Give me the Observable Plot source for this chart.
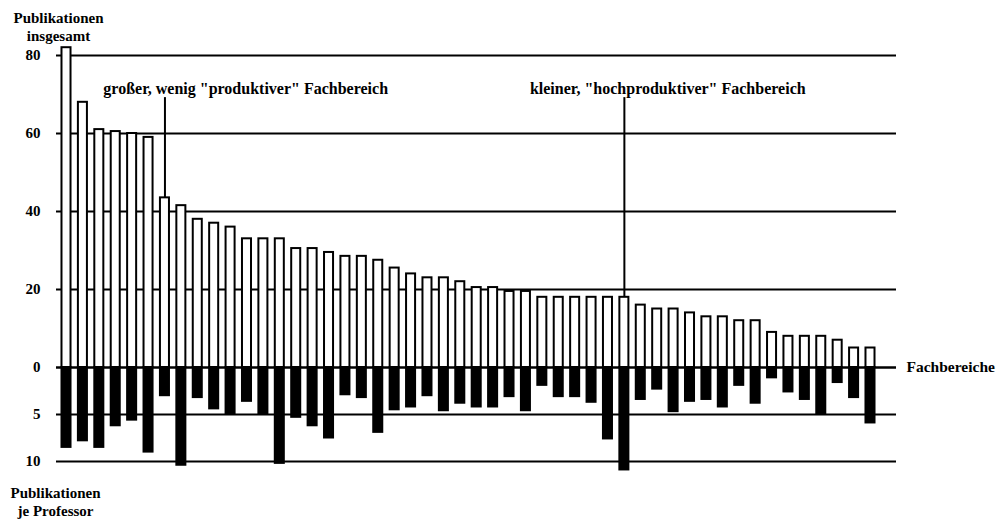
<!DOCTYPE html>
<html><head><meta charset="utf-8">
<script src="https://cdn.jsdelivr.net/npm/d3@7"></script>
<script src="https://cdn.jsdelivr.net/npm/@observablehq/plot@0.6"></script>
<style>
body{margin:0;background:#fff;}
#chart svg{display:block;}
</style></head><body><div id="chart"></div>
<script>
// Fachbereiche (departments), sorted by total publications
const fachbereiche = [1,2,3,4,5,6,7,8,9,10,11,12,13,14,15,16,17,18,19,20,21,22,23,24,25,26,27,28,29,30,31,32,33,34,35,36,37,38,39,40,41,42,43,44,45,46,47,48,49,50];
const publikationenInsgesamt = [82,68,61,60.5,60,59,43.5,41.5,38,37,36,33,33,33,30.5,30.5,29.5,28.5,28.5,27.5,25.5,24,23,23,22,20.5,20.5,19.5,19.5,18,18,18,18,18,18,16,15,15,14,13,13,12,12,9,8,8,8,7,5,5];
const publikationenJeProfessor = [8.5,7.8,8.5,6.2,5.6,9.0,3.0,10.4,3.2,4.4,4.9,3.6,4.9,10.2,5.3,6.2,7.5,2.9,3.2,6.9,4.5,4.2,3.0,4.6,3.8,4.2,4.2,3.1,4.6,1.9,3.1,3.1,3.7,7.6,10.9,3.4,2.3,4.7,3.6,3.4,4.2,1.9,3.8,1.1,2.6,3.4,5.0,1.6,3.2,5.9];
const ticksInsgesamt = [0,20,40,60,80];
const ticksJeProfessor = [5,10];
const annotationBars = [7, 35];
const annotationTextStart = [3, 29];
const annotationLabels = ['großer, wenig "produktiver" Fachbereich', 'kleiner, "hochproduktiver" Fachbereich'];
const labelLevel = 71.5;       // height (in publications) of annotation labels
const lowerStretch = 2.41;     // lower axis: units of "insgesamt" per publication/professor

const data = fachbereiche.map((id, i) => ({id, total: publikationenInsgesamt[i], perProf: publikationenJeProfessor[i]}));
const annotations = annotationBars.map((b, i) => ({bar: b, textBar: annotationTextStart[i], label: annotationLabels[i], top: publikationenInsgesamt[b - 1]}));
const lowerPos = v => -v * lowerStretch;
const tickValues = [...ticksInsgesamt, ...ticksJeProfessor.map(lowerPos)];
const tickLabel = d => d < 0 ? String(Math.round(-d / lowerStretch)) : String(d);

const font = '"Liberation Serif", "Times New Roman", serif';

const chart = Plot.plot({
  width: 1004,
  height: 521,
  marginTop: 39.4,
  marginBottom: 41.2,
  marginLeft: 56,
  marginRight: 108,
  x: {type: "band", domain: fachbereiche, range: [57.8, 878.2], paddingInner: 0.45, paddingOuter: 0.225, round: false, axis: null},
  y: {domain: [lowerPos(12), 84]},
  style: {fontFamily: font, fontWeight: "bold", fontSize: "15px", color: "black", background: "white", overflow: "visible"},
  marks: [
    Plot.ruleY([...ticksInsgesamt.filter(d => d > 0), ...ticksJeProfessor.map(lowerPos)], {stroke: "black", strokeWidth: 2}),
    Plot.barY(data, {x: "id", y1: 0, y2: "total", fill: "white", stroke: "black", strokeWidth: 2}),
    Plot.barY(data, {x: "id", y1: 0, y2: d => lowerPos(d.perProf), fill: "black", stroke: "black", strokeWidth: 2}),
    Plot.ruleY([0], {stroke: "black", strokeWidth: 2.5}),
    Plot.ruleX(annotations, {x: "bar", y1: "top", y2: labelLevel - 2.3, stroke: "black", strokeWidth: 2}),
    Plot.text(annotations, {x: "textBar", y: labelLevel, text: "label", textAnchor: "start", dx: 4, fontSize: 16, fill: "black"}),
    Plot.axisY(tickValues, {tickFormat: tickLabel, tickSize: 0, tickPadding: 16, fontSize: 15, fontWeight: "bold", fill: "black"}),
    Plot.text(["Fachbereiche"], {y: [0], text: d => d, frameAnchor: "right", textAnchor: "start", dx: 10, fontSize: 15.5, fill: "black"}),
    Plot.text(["Publikationen\ninsgesamt"], {text: d => d, frameAnchor: "top-left", lineAnchor: "top", textAnchor: "middle", dx: 2, dy: -30, lineHeight: 1.2, fontSize: 15, fill: "black"}),
    Plot.text(["Publikationen\nje Professor"], {text: d => d, frameAnchor: "bottom-left", lineAnchor: "top", textAnchor: "middle", dx: -1, dy: 5, lineHeight: 1.2, fontSize: 15, fill: "black"})
  ]
});
document.getElementById("chart").append(chart);
</script></body></html>
